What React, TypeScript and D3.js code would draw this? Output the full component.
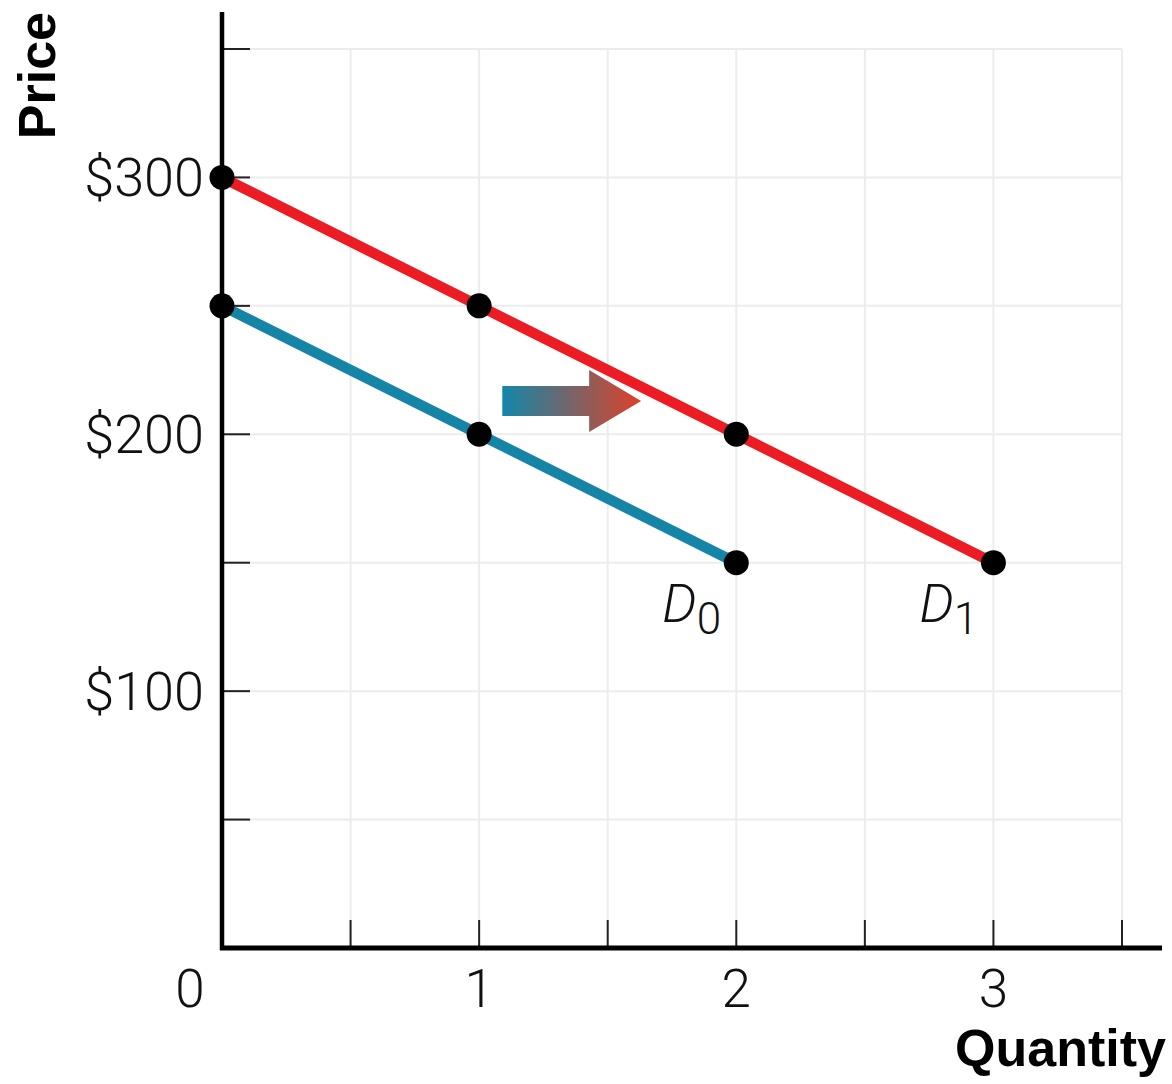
import React, { useEffect, useRef } from "react";
import * as d3 from "d3";

// Demand schedules (quantity, price)
const d0Quantity = [0, 1, 2];
const d0Price = [250, 200, 150];
const d1Quantity = [0, 1, 2, 3];
const d1Price = [300, 250, 200, 150];

const xTicks = [0.5, 1, 1.5, 2, 2.5, 3, 3.5];
const yTicks = [50, 100, 150, 200, 250, 300, 350];
const xLabels = [0, 1, 2, 3];
const yLabels = [100, 200, 300];

// shift arrow annotation (data units)
const arrowFrom = { q: 1.09, p: 213 };
const arrowTo = { q: 1.63, p: 213 };

const W = 1172;
const H = 1084;

const App: React.FC = () => {
    const svgRef = useRef<SVGSVGElement>(null);

    useEffect(() => {
        if (!svgRef.current) return;
        const svg = d3.select(svgRef.current);
        svg.selectAll("*").remove();

        const x = d3.scaleLinear().domain([0, 3.5]).range([222, 1122]);
        const y = d3.scaleLinear().domain([0, 350]).range([948, 49]);

        const lightFont = "Roboto, 'Liberation Sans', sans-serif";
        const boldFont = "'Liberation Sans', Arial, sans-serif";

        // Gradient for the arrow
        const defs = svg.append("defs");
        const grad = defs
            .append("linearGradient")
            .attr("id", "shiftGrad")
            .attr("x1", "0%")
            .attr("x2", "100%");
        grad.append("stop").attr("offset", "0%").attr("stop-color", "#1287aa");
        grad.append("stop").attr("offset", "100%").attr("stop-color", "#de4128");

        // Grid
        const grid = svg.append("g").attr("stroke", "#ececec").attr("stroke-width", 2);
        grid.selectAll(".h")
            .data(yTicks)
            .enter()
            .append("line")
            .attr("x1", x(0))
            .attr("x2", x(3.5))
            .attr("y1", (d) => y(d))
            .attr("y2", (d) => y(d));
        grid.selectAll(".v")
            .data(xTicks)
            .enter()
            .append("line")
            .attr("x1", (d) => x(d))
            .attr("x2", (d) => x(d))
            .attr("y1", y(350))
            .attr("y2", y(0));

        // Ticks
        const ticks = svg.append("g").attr("stroke", "#222").attr("stroke-width", 2);
        ticks.selectAll(".yt")
            .data(yTicks)
            .enter()
            .append("line")
            .attr("x1", x(0))
            .attr("x2", x(0) + 28)
            .attr("y1", (d) => y(d))
            .attr("y2", (d) => y(d));
        ticks.selectAll(".xt")
            .data(xTicks)
            .enter()
            .append("line")
            .attr("x1", (d) => x(d))
            .attr("x2", (d) => x(d))
            .attr("y1", y(0) - 28)
            .attr("y2", y(0));

        // Axes
        svg.append("line")
            .attr("x1", x(0))
            .attr("x2", x(0))
            .attr("y1", 12)
            .attr("y2", y(0) + 2)
            .attr("stroke", "#000")
            .attr("stroke-width", 4.5);
        svg.append("line")
            .attr("x1", x(0) - 2)
            .attr("x2", 1162)
            .attr("y1", y(0))
            .attr("y2", y(0))
            .attr("stroke", "#000")
            .attr("stroke-width", 5);

        // Tick labels
        svg.selectAll(".yl")
            .data(yLabels)
            .enter()
            .append("text")
            .attr("x", 204)
            .attr("y", (d) => y(d) + 19)
            .attr("text-anchor", "end")
            .attr("font-family", lightFont)
            .attr("font-weight", 300)
            .attr("font-size", 54)
            .attr("fill", "#111")
            .text((d) => `$${d}`);
        svg.selectAll(".xl")
            .data(xLabels)
            .enter()
            .append("text")
            .attr("x", (d) => x(d) - (d === 0 ? 32 : 0))
            .attr("y", 1007)
            .attr("text-anchor", "middle")
            .attr("font-family", lightFont)
            .attr("font-weight", 300)
            .attr("font-size", 53)
            .attr("fill", "#111")
            .text((d) => String(d));

        // Axis titles
        svg.append("text")
            .attr("transform", "translate(55,12) rotate(-90)")
            .attr("text-anchor", "end")
            .attr("font-family", boldFont)
            .attr("font-weight", "bold")
            .attr("font-size", 52)
            .text("Price");
        svg.append("text")
            .attr("x", 1166)
            .attr("y", 1066)
            .attr("text-anchor", "end")
            .attr("font-family", boldFont)
            .attr("font-weight", "bold")
            .attr("font-size", 52)
            .text("Quantity");

        // Demand curves
        const line = d3
            .line<[number, number]>()
            .x((d) => x(d[0]))
            .y((d) => y(d[1]));
        const d0 = d0Quantity.map((q, i) => [q, d0Price[i]] as [number, number]);
        const d1 = d1Quantity.map((q, i) => [q, d1Price[i]] as [number, number]);

        svg.append("path")
            .attr("d", line(d1))
            .attr("fill", "none")
            .attr("stroke", "#ec1c24")
            .attr("stroke-width", 10.5);
        svg.append("path")
            .attr("d", line(d0))
            .attr("fill", "none")
            .attr("stroke", "#1484a7")
            .attr("stroke-width", 10.5);

        svg.selectAll(".pt")
            .data([...d0, ...d1])
            .enter()
            .append("circle")
            .attr("cx", (d) => x(d[0]))
            .attr("cy", (d) => y(d[1]))
            .attr("r", 12.5)
            .attr("fill", "#000");

        // Curve labels
        const labels = [
            { pt: d0[d0.length - 1], sub: "0" },
            { pt: d1[d1.length - 1], sub: "1" },
        ];
        labels.forEach((l) => {
            const t = svg
                .append("text")
                .attr("x", x(l.pt[0]) - 74)
                .attr("y", y(l.pt[1]) + 59)
                .attr("font-family", lightFont)
                .attr("font-size", 54)
                .attr("fill", "#111");
            t.append("tspan").attr("font-style", "italic").attr("font-weight", 300).text("D");
            t.append("tspan")
                .attr("dy", 12)
                .attr("font-weight", 300)
                .attr("font-size", 44)
                .text(l.sub);
        });

        // Shift arrow
        const ax0 = x(arrowFrom.q);
        const ax1 = x(arrowTo.q);
        const ay = y(arrowFrom.p);
        const headX = ax1 - 52;
        svg.append("path")
            .attr(
                "d",
                `M${ax0},${ay - 15}L${headX},${ay - 15}L${headX},${ay - 31}L${ax1},${ay}` +
                    `L${headX},${ay + 31}L${headX},${ay + 15}L${ax0},${ay + 15}Z`
            )
            .attr("fill", "url(#shiftGrad)");
    }, []);

    return (
        <svg
            ref={svgRef}
            width={W}
            height={H}
            style={{ position: "absolute", left: 0, top: 0, background: "#fff" }}
        />
    );
};

export default App;
